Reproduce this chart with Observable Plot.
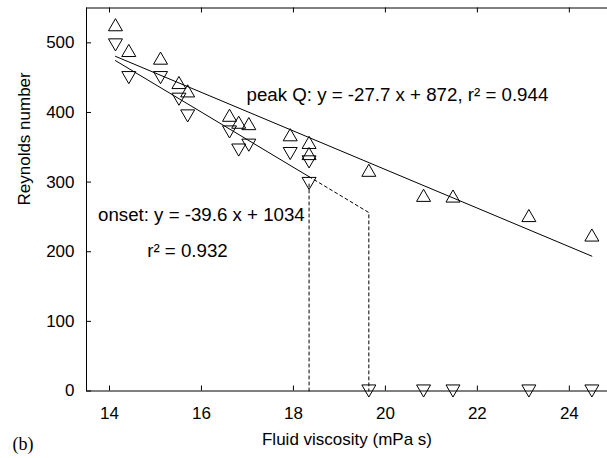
<!DOCTYPE html>
<html>
<head>
<meta charset="utf-8">
<script src="https://cdn.jsdelivr.net/npm/d3@7"></script>
<script src="https://cdn.jsdelivr.net/npm/@observablehq/plot@0.6"></script>
<style>
  html, body { margin: 0; padding: 0; background: #fff; }
  svg { display: block; }
</style>
</head>
<body>
<div id="chart"></div>
<script>
// ---- data ----
const viscosity = [14.13, 14.42, 15.11, 15.51, 15.70, 16.61, 16.81, 17.03, 17.93, 18.34, 18.34, 19.64, 20.83, 21.47, 23.12, 24.49];
const peakQ     = [526, 489, 478, 443, 431, 396, 386, 384, 368, 357, 341, 317, 281, 280, 252, 224];
const onsetRe   = [497, 450, 450, 419, 395, 372, 346, 353, 341, 329, 298, 0, 0, 0, 0, 0];

const peakFit  = {slope: -27.7, intercept: 872};
const onsetFit = {slope: -39.6, intercept: 1034};

const xTicks = [14, 16, 18, 20, 22, 24];
const yTicks = [0, 100, 200, 300, 400, 500];
const xDomain = [13.5, 24.83];
const yDomain = [0, 550];

const annotText = ["peak Q: y = -27.7 x + 872, r\u00B2 = 0.944", "onset: y = -39.6 x + 1034", "r\u00B2 = 0.932"];
const annotX = [16.98, 13.75, 14.82];
const annotY = [425, 253, 201];

// ---- derived tables ----
const peakData  = viscosity.map((x, i) => ({x, y: peakQ[i]}));
const onsetData = viscosity.map((x, i) => ({x, y: onsetRe[i]}));
const onsetPos = onsetData.filter(d => d.y > 0);
const onsetZero = onsetData.filter(d => d.y === 0);
const fy = (f, x) => f.slope * x + f.intercept;
const xMin = d3.min(viscosity), xMax = d3.max(viscosity);
const lastOnset = onsetPos[onsetPos.length - 1];
const firstZero = onsetZero[0];
const peakLine = [xMin, xMax].map(x => ({x, y: fy(peakFit, x)}));
const onsetLine = [xMin, lastOnset.x].map(x => ({x, y: fy(onsetFit, x)}));
const dashA = [{x: lastOnset.x, y: 0}, {x: lastOnset.x, y: lastOnset.y}];
const dashB = [{x: lastOnset.x, y: fy(onsetFit, lastOnset.x)}, {x: firstZero.x, y: fy(onsetFit, firstZero.x)}, {x: firstZero.x, y: 0}];
const annots = annotText.map((t, i) => ({t, x: annotX[i], y: annotY[i]}));

// ---- custom triangle symbols ----
const triUp = {draw(ctx, size) {
  const s = 2 * Math.sqrt(size / Math.PI), h = s * Math.sqrt(3) / 2;
  ctx.moveTo(0, -h / 2); ctx.lineTo(s / 2, h / 2); ctx.lineTo(-s / 2, h / 2); ctx.closePath();
}};
const triDown = {draw(ctx, size) {
  const s = 2 * Math.sqrt(size / Math.PI), h = s * Math.sqrt(3) / 2;
  ctx.moveTo(0, h / 2); ctx.lineTo(s / 2, -h / 2); ctx.lineTo(-s / 2, -h / 2); ctx.closePath();
}};

const W = 607, H = 458, mL = 86, mR = 0, mT = 7.5, mB = 67.5;
const frameW = W - mL - mR, frameH = H - mT - mB, tick = 5;
const font = "'Liberation Sans', Arial, Helvetica, sans-serif";

const chart = Plot.plot({
  width: W, height: H,
  marginLeft: mL, marginRight: mR, marginTop: mT, marginBottom: mB,
  style: {background: "#fff", color: "#000", fontFamily: font, fontSize: "17px"},
  x: {domain: xDomain, ticks: xTicks, label: null},
  y: {domain: yDomain, ticks: yTicks, label: null},
  marks: [
    Plot.axisX(xTicks, {tickSize: 0, tickPadding: 16, fontSize: 17, label: null}),
    Plot.axisY(yTicks, {tickSize: 0, tickPadding: 12, fontSize: 17, label: null}),
    // box lines (top, bottom, left)
    Plot.ruleY(yDomain, {stroke: "#000", strokeWidth: 1}),
    Plot.ruleX([xDomain[0]], {stroke: "#000", strokeWidth: 1}),
    // inward ticks
    Plot.tickX(xTicks, {x: d => d, insetTop: frameH - tick, stroke: "#000"}),
    Plot.tickX(xTicks, {x: d => d, insetBottom: frameH - tick, stroke: "#000"}),
    Plot.tickY(yTicks, {y: d => d, insetRight: frameW - tick, stroke: "#000"}),
    // fit lines
    Plot.line(peakLine, {x: "x", y: "y", stroke: "#000", strokeWidth: 1}),
    Plot.line(onsetLine, {x: "x", y: "y", stroke: "#000", strokeWidth: 1}),
    Plot.line(dashA, {x: "x", y: "y", stroke: "#000", strokeWidth: 1, strokeDasharray: "3,3"}),
    Plot.line(dashB, {x: "x", y: "y", stroke: "#000", strokeWidth: 1, strokeDasharray: "3,3"}),
    // markers
    Plot.dot(peakData, {x: "x", y: "y", symbol: triUp, r: 7, stroke: "#000", fill: "none", strokeWidth: 1}),
    Plot.dot(onsetData, {x: "x", y: "y", symbol: triDown, r: 7, stroke: "#000", fill: "none", strokeWidth: 1}),
    // annotations
    Plot.text(annots, {x: "x", y: "y", text: "t", textAnchor: "start", lineAnchor: "middle", fontSize: 18.7, fill: "#000"}),
    // axis titles
    Plot.text(["Fluid viscosity (mPa s)"], {frameAnchor: "bottom", dy: 49, lineAnchor: "middle", fontSize: 17, fill: "#000"}),
    Plot.text(["Reynolds number"], {frameAnchor: "left", dx: -62, dy: 6, rotate: -90, lineAnchor: "middle", fontSize: 17, fill: "#000"}),
    Plot.text(["(b)"], {frameAnchor: "bottom-left", dx: -74, dy: 53, textAnchor: "start", lineAnchor: "middle", fontSize: 18, fontFamily: "'Liberation Serif', 'Times New Roman', serif", fill: "#000"})
  ]
});
document.getElementById("chart").appendChild(chart);
</script>
</body>
</html>
